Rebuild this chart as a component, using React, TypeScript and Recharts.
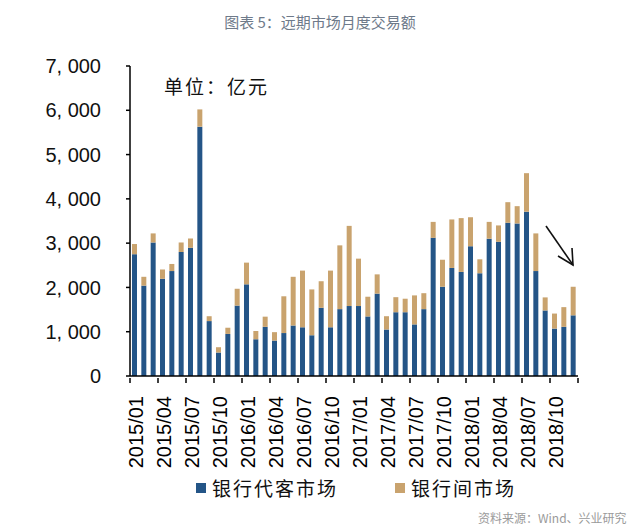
import { BarChart, Bar, XAxis, YAxis } from 'recharts'

const months = [
  '2015/01', '2015/02', '2015/03', '2015/04', '2015/05', '2015/06', '2015/07', '2015/08', '2015/09', '2015/10', '2015/11', '2015/12',
  '2016/01', '2016/02', '2016/03', '2016/04', '2016/05', '2016/06', '2016/07', '2016/08', '2016/09', '2016/10', '2016/11', '2016/12',
  '2017/01', '2017/02', '2017/03', '2017/04', '2017/05', '2017/06', '2017/07', '2017/08', '2017/09', '2017/10', '2017/11', '2017/12',
  '2018/01', '2018/02', '2018/03', '2018/04', '2018/05', '2018/06', '2018/07', '2018/08', '2018/09', '2018/10', '2018/11', '2018/12',
]

// 银行代客市场
const clientMarket = [
  2750, 2040, 3015, 2195, 2370, 2800, 2895, 5630, 1240, 530, 950, 1590,
  2070, 830, 1110, 800, 970, 1140, 1100, 920, 1540, 1100, 1510, 1580,
  1580, 1345, 1860, 1050, 1440, 1440, 1165, 1510, 3120, 2015, 2440, 2350,
  2930, 2320, 3100, 3030, 3460, 3445, 3710, 2370, 1480, 1070, 1110, 1370,
]

// 银行间市场
const interbankMarket = [
  230, 200, 205, 210, 160, 215, 210, 390, 110, 120, 140, 380,
  490, 185, 230, 190, 830, 1100, 1280, 1035, 600, 1280, 1440, 1810,
  1070, 445, 435, 300, 340, 305, 655, 360, 360, 610, 1095, 1215,
  655, 315, 380, 370, 465, 390, 870, 850, 295, 340, 445, 645,
]

const yTicks = [0, 1000, 2000, 3000, 4000, 5000, 6000, 7000]

const data = months.map((m, i) => ({ month: m, client: clientMarket[i], interbank: interbankMarket[i] }))

const BLUE = '#245587'
const TAN = '#c9a36e'
const PLOT_LEFT = 130
const PLOT_RIGHT = 62
const HALF_BAND = (640 - PLOT_LEFT - PLOT_RIGHT) / months.length / 2

function MonthTick(props: any) {
  const { x, y, payload } = props
  const left = x - HALF_BAND
  const right = x + HALF_BAND * 5
  return (
    <g>
      <line x1={left} x2={left} y1={y} y2={y + 5} stroke="#000" strokeWidth={1.5} />
      {payload.value === '2018/10' && (
        <line x1={right} x2={right} y1={y} y2={y + 5} stroke="#000" strokeWidth={1.5} />
      )}
      <text
        x={x + 1}
        y={y + 18}
        transform={`rotate(-90, ${x + 1}, ${y + 18})`}
        textAnchor="end"
        dy="0.36em"
        fontSize={20}
        fontFamily="'Liberation Sans', Arial, sans-serif"
        fill="#000"
      >
        {payload.value}
      </text>
    </g>
  )
}

function ValueTick(props: any) {
  const { x, y, payload } = props
  const s = payload.value.toLocaleString('en-US').replace(',', ', ')
  return (
    <text x={x} y={y} dy="0.36em" textAnchor="end" fontSize={20} fill="#111"
      fontFamily="'Liberation Sans', Arial, sans-serif">
      {s}
    </text>
  )
}

export default function App() {
  return (
    <div style={{ position: 'relative', width: 640, height: 529, background: '#fff', overflow: 'hidden' }}>
      <style>{`body{margin:0}`}</style>
      <div
        style={{
          position: 'absolute', top: 11, left: 0, width: 640, textAlign: 'center',
          fontFamily: "'Noto Sans CJK SC', sans-serif", fontSize: 15, color: '#6e7a8a',
        }}
      >
        图表 5：远期市场月度交易额
      </div>
      <BarChart
        width={640}
        height={529}
        data={data}
        margin={{ top: 66, right: PLOT_RIGHT, bottom: 53, left: 0 }}
        barSize={5}
        style={{ position: 'absolute', top: 0, left: 0 }}
      >
        <XAxis
          dataKey="month"
          interval={2}
          axisLine={{ stroke: '#000', strokeWidth: 1.5 }}
          tickLine={false}
          tickSize={0}
          height={100}
          tick={<MonthTick />}
        />
        <YAxis
          domain={[0, 7000]}
          ticks={yTicks}
          width={PLOT_LEFT}
          interval={0}
          axisLine={{ stroke: '#000', strokeWidth: 1.5 }}
          tickLine={{ stroke: '#000', strokeWidth: 1.5 }}
          tickSize={4}
          tickMargin={25}
          tick={<ValueTick />}
        />
        <Bar dataKey="client" stackId="a" fill={BLUE} isAnimationActive={false} />
        <Bar dataKey="interbank" stackId="a" fill={TAN} isAnimationActive={false} />
      </BarChart>
      <div
        style={{
          position: 'absolute', top: 72, left: 164, fontSize: 19, letterSpacing: 2,
          fontFamily: "'Noto Sans CJK SC', serif", color: '#111',
        }}
      >
        单位：亿元
      </div>
      <svg width={640} height={529} style={{ position: 'absolute', top: 0, left: 0, pointerEvents: 'none' }}>
        <line x1={546} y1={226} x2={573} y2={265} stroke="#111" strokeWidth={1.6} />
        <polyline points="558,256 573,265 572,248" fill="none" stroke="#111" strokeWidth={1.6} />
      </svg>
      <div
        style={{
          position: 'absolute', top: 474, left: 0, width: 640, display: 'flex',
          fontFamily: "'Noto Sans CJK SC', serif", fontSize: 19, color: '#111', letterSpacing: 2,
        }}
      >
        <div style={{ position: 'absolute', left: 196, display: 'flex', alignItems: 'center' }}>
          <span style={{ width: 10, height: 10, background: BLUE, marginRight: 6, display: 'inline-block' }} />
          银行代客市场
        </div>
        <div style={{ position: 'absolute', left: 395, display: 'flex', alignItems: 'center' }}>
          <span style={{ width: 10, height: 10, background: TAN, marginRight: 6, display: 'inline-block' }} />
          银行间市场
        </div>
      </div>
      <div
        style={{
          position: 'absolute', top: 509, left: 478, fontSize: 12, color: '#9a9a9a',
          fontFamily: "'Noto Sans CJK SC', sans-serif",
        }}
      >
        资料来源：Wind、兴业研究
      </div>
    </div>
  )
}
